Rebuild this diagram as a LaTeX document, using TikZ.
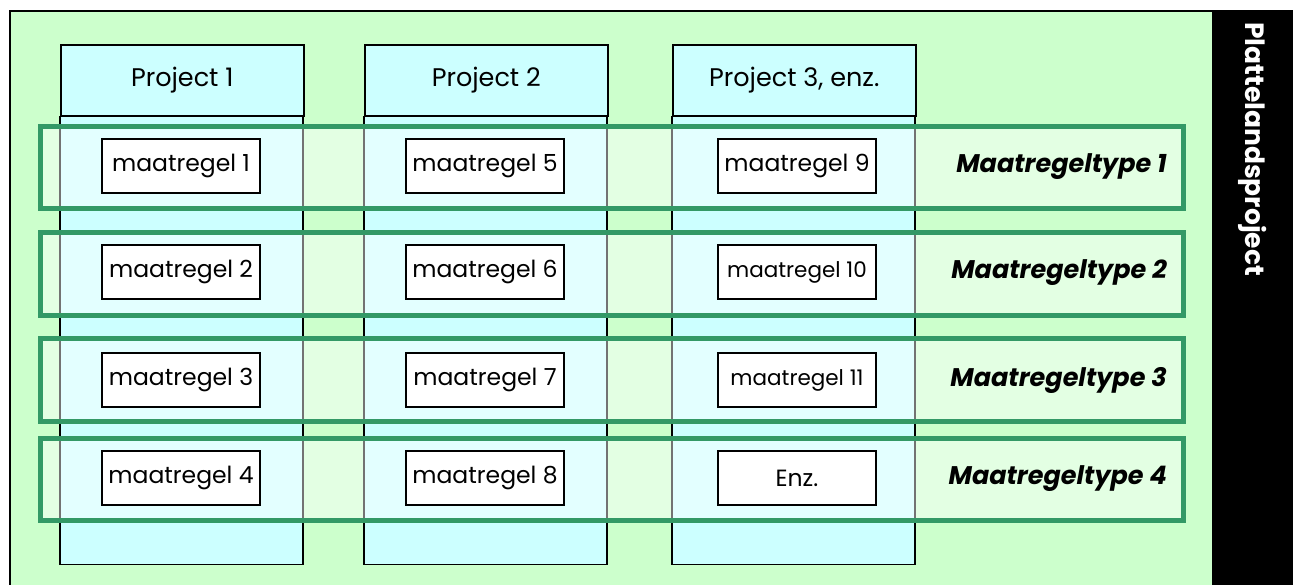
\documentclass[tikz,border=0pt]{standalone}
\usepackage{fontspec}
\setmainfont{Poppins}
\usetikzlibrary{positioning}
\definecolor{gras}{HTML}{CCFFCC}
\definecolor{lucht}{HTML}{CCFFFF}
\definecolor{bandgroen}{HTML}{339966}

\begin{document}
\begin{tikzpicture}[
            x=1pt, y=-1pt,
            kop/.style={draw, line width=1.5pt, fill=lucht, minimum width=243pt, minimum height=71pt, inner sep=0pt, font=\fontsize{25.5}{28}\selectfont},
            maatregel/.style={draw, line width=1.5pt, fill=white, minimum width=158pt, minimum height=54pt, inner sep=0pt, font=\fontsize{23.5}{26}\selectfont},
            klein/.style={font=\fontsize{21.5}{24}\selectfont},
            typeband/.style={draw=bandgroen, line width=5pt, fill=white, fill opacity=0.45},
            typelabel/.style={anchor=east, inner sep=0pt, font=\fontsize{25.5}{28}\selectfont\bfseries\itshape}
        ]
            \useasboundingbox (0,0) rectangle (1296,584);
            % achtergrond
            \draw[line width=1.5pt, fill=gras] (10,11) rectangle (1213,600);
            \fill (1213,11) rectangle (1293,600);
            \draw[line width=1.5pt] (1213,11) -- (1293,11);
            \node[rotate=-90, anchor=west, inner sep=0pt, text=white, font=\fontsize{26.5}{30}\selectfont\bfseries] (titel) at (1253,22) {Plattelandsproject};

            % projecten
            \node[kop, anchor=north west] (p1) at (60,44) {Project 1};
            \node[kop, anchor=north west] (p2) at (364,44) {Project 2};
            \node[kop, anchor=north west] (p3) at (672,44) {Project 3, enz.};
            \draw[line width=1.5pt, fill=lucht] (p1.south west) rectangle ++(243,448);
            \draw[line width=1.5pt, fill=lucht] (p2.south west) rectangle ++(243,448);
            \draw[line width=1.5pt, fill=lucht] (p3.south west) rectangle ++(243,448);

            % maatregeltypen
            \draw[typeband] (40,126) rectangle (1183,208);
            \draw[typeband] (40,232) rectangle (1183,315);
            \draw[typeband] (40,338) rectangle (1183,421);
            \draw[typeband] (40,438) rectangle (1183,520);
            \node[typelabel] (t1) at (1167,167) {Maatregeltype 1};
            \node[typelabel] (t2) at (1167,273) {Maatregeltype 2};
            \node[typelabel] (t3) at (1167,380) {Maatregeltype 3};
            \node[typelabel] (t4) at (1167,479) {Maatregeltype 4};

            % maatregelen
            \node[maatregel] (m1) at (181,166) {maatregel 1};
            \node[maatregel] (m2) at (181,272) {maatregel 2};
            \node[maatregel] (m3) at (181,380) {maatregel 3};
            \node[maatregel] (m4) at (181,478) {maatregel 4};
            \node[maatregel] (m5) at (485,166) {maatregel 5};
            \node[maatregel] (m6) at (485,272) {maatregel 6};
            \node[maatregel] (m7) at (485,380) {maatregel 7};
            \node[maatregel] (m8) at (485,478) {maatregel 8};
            \node[maatregel] (m9) at (797,166) {maatregel 9};
            \node[maatregel, klein] (m10) at (797,272) {maatregel 10};
            \node[maatregel, klein] (m11) at (797,380) {maatregel 11};
            \node[maatregel] (m12) at (797,478) {Enz.};
        \end{tikzpicture}
\end{document}
